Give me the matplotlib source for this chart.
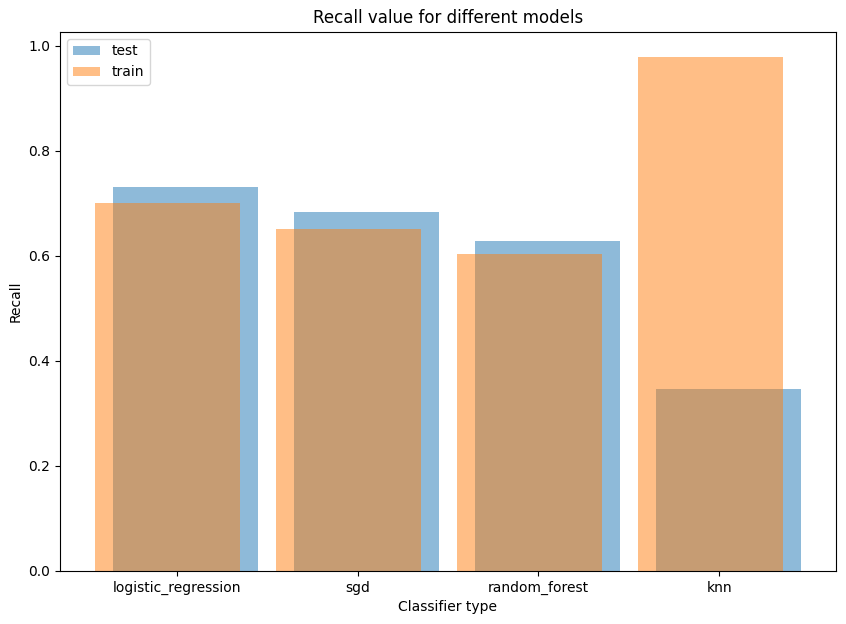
import numpy as np
import matplotlib
matplotlib.use('Agg')
import matplotlib.pyplot as plt

models = ['logistic_regression', 'sgd', 'random_forest', 'knn']
test_recall = [0.731, 0.684, 0.629, 0.347]
train_recall = [0.701, 0.651, 0.604, 0.978]

x = np.arange(len(models))

fig, ax = plt.subplots(figsize=(8.46, 6.24), dpi=100)
ax.bar(x + 0.05, test_recall, width=0.8, alpha=0.5, label='test')
ax.bar(x - 0.05, train_recall, width=0.8, alpha=0.5, label='train')
ax.set_xticks(x)
ax.set_xticklabels(models)
ax.set_title('Recall value for different models')
ax.set_xlabel('Classifier type')
ax.set_ylabel('Recall')
ax.legend(loc='upper left')
plt.subplots_adjust(left=0.071, right=0.988, top=0.949, bottom=0.085)
plt.savefig('out.png')
